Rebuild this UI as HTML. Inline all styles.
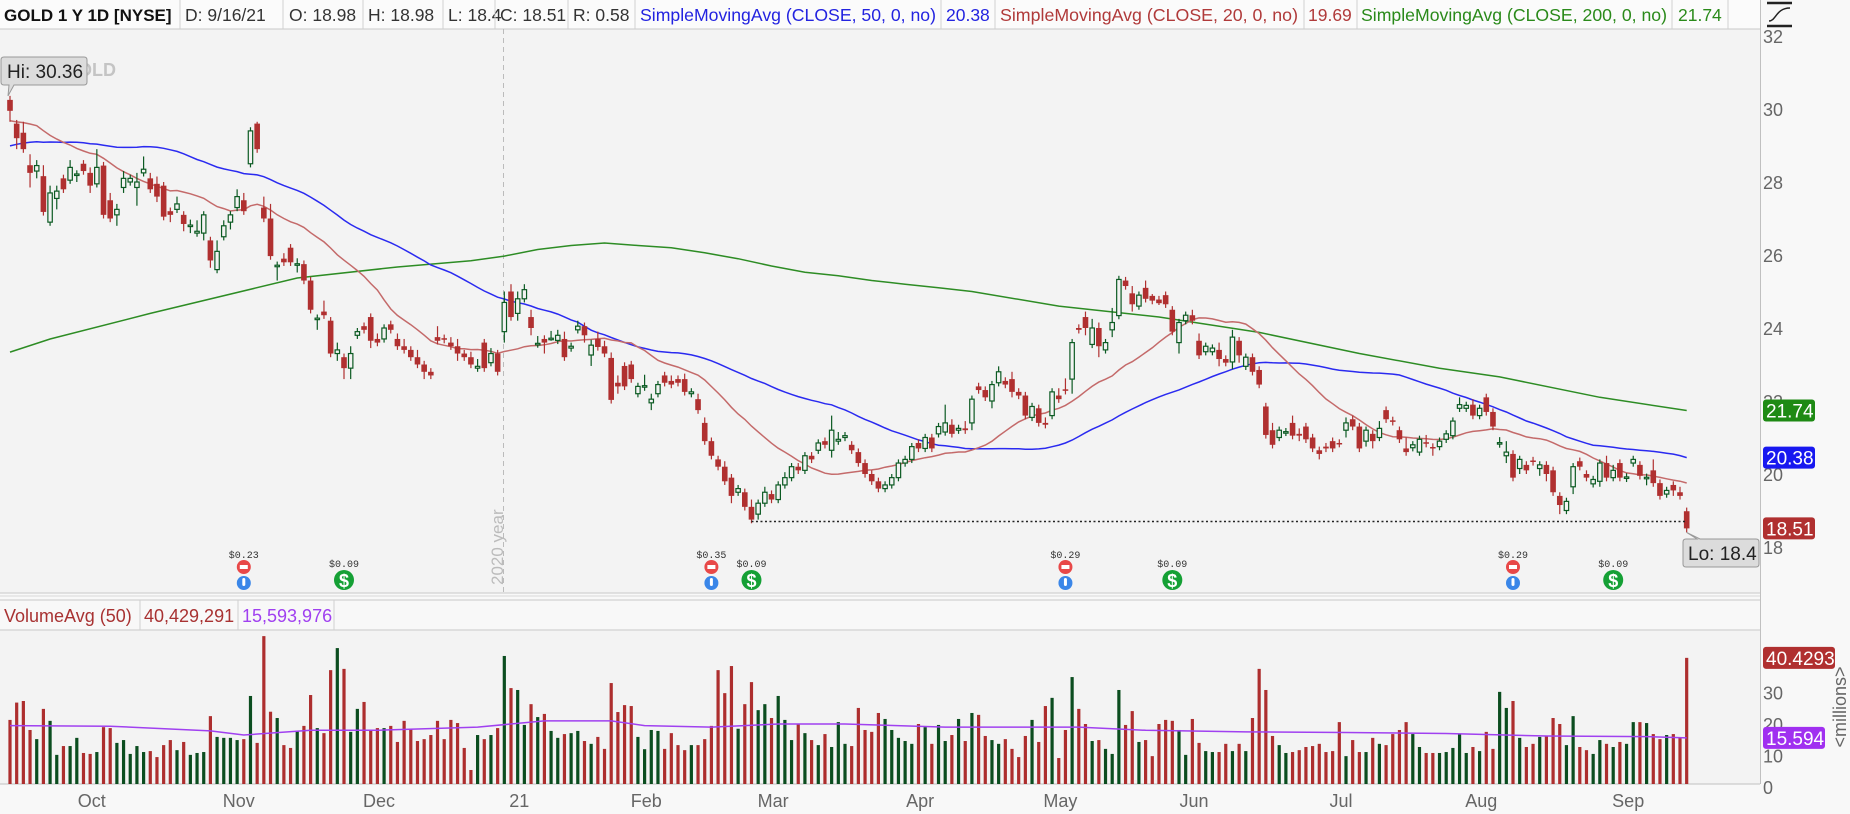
<!DOCTYPE html>
<html><head><meta charset="utf-8"><style>
html,body{margin:0;padding:0;background:#f8f8f8;}
svg{display:block;font-family:"Liberation Sans",sans-serif;}
</style></head><body>
<svg id="chart" width="1850" height="814" viewBox="0 0 1850 814" xmlns="http://www.w3.org/2000/svg">
<rect x="0" y="0" width="1850" height="814" fill="#f8f8f8"/>
<rect x="0" y="29" width="1760" height="564" fill="#f3f3f3"/>
<rect x="0" y="630" width="1760" height="154" fill="#f3f3f3"/>
<rect x="0" y="0" width="1760" height="29" fill="#fbfbfb"/>
<line x1="0" y1="29" x2="1760" y2="29" stroke="#c8c8c8"/>
<line x1="1760.5" y1="0" x2="1760.5" y2="784" stroke="#c0c0c0"/>
<line x1="0" y1="593" x2="1760" y2="593" stroke="#c8c8c8"/>
<line x1="0" y1="596" x2="1760" y2="596" stroke="#d8d8d8"/>
<rect x="0" y="600" width="1760" height="30" fill="#f8f8f8"/>
<line x1="0" y1="600" x2="1760" y2="600" stroke="#c8c8c8"/>
<line x1="0" y1="630" x2="1760" y2="630" stroke="#c8c8c8"/>
<line x1="0" y1="784" x2="1760" y2="784" stroke="#c0c0c0"/>

<g font-size="17.5">
<text x="4" y="21" font-weight="bold" font-size="17" fill="#111">GOLD 1 Y 1D [NYSE]</text>
<text x="185" y="21" fill="#333">D: 9/16/21</text>
<text x="289" y="21" fill="#333">O: 18.98</text>
<text x="368" y="21" fill="#333">H: 18.98</text>
<text x="448" y="21" fill="#333">L: 18.4</text>
<text x="500" y="21" fill="#333">C: 18.51</text>
<text x="573" y="21" fill="#333">R: 0.58</text>
<text x="640" y="21" fill="#2323e0" textLength="296" lengthAdjust="spacingAndGlyphs">SimpleMovingAvg (CLOSE, 50, 0, no)</text>
<text x="946" y="21" fill="#2323e0">20.38</text>
<text x="1000" y="21" fill="#b03a3a" textLength="298" lengthAdjust="spacingAndGlyphs">SimpleMovingAvg (CLOSE, 20, 0, no)</text>
<text x="1308" y="21" fill="#b03a3a">19.69</text>
<text x="1361" y="21" fill="#2a8a1a" textLength="306" lengthAdjust="spacingAndGlyphs">SimpleMovingAvg (CLOSE, 200, 0, no)</text>
<text x="1678" y="21" fill="#2a8a1a">21.74</text>
<g stroke="#d0d0d0">
<line x1="180" y1="0" x2="180" y2="29"/><line x1="283" y1="0" x2="283" y2="29"/><line x1="363" y1="0" x2="363" y2="29"/>
<line x1="443" y1="0" x2="443" y2="29"/><line x1="495" y1="0" x2="495" y2="29"/><line x1="568" y1="0" x2="568" y2="29"/>
<line x1="635" y1="0" x2="635" y2="29"/><line x1="941" y1="0" x2="941" y2="29"/><line x1="995" y1="0" x2="995" y2="29"/>
<line x1="1304" y1="0" x2="1304" y2="29"/><line x1="1357" y1="0" x2="1357" y2="29"/><line x1="1672" y1="0" x2="1672" y2="29"/>
<line x1="1728" y1="0" x2="1728" y2="29"/></g>
</g>
<g stroke="#222" fill="none" stroke-width="2.5">
<line x1="1767" y1="3" x2="1792" y2="3"/><line x1="1767" y1="26" x2="1792" y2="26"/>
<path d="M1769 21 C1776 21,1776 8,1790 8" stroke-width="1.5"/>
</g>

<text x="78" y="76" font-size="18" fill="#c4c4c4" font-weight="bold">OLD</text>

<g id="priceAxis" font-size="18" fill="#666"></g>
<line x1="503.5" y1="29" x2="503.5" y2="593" stroke="#bbb" stroke-dasharray="5,4"/>
<text transform="translate(503,585) rotate(-90)" font-size="17" fill="#bbb">2020 year</text>
<g id="maLines"></g>
<g id="candles"></g>
<g id="annot"></g>
<g id="events"></g>

<g font-size="18">
<text x="4" y="622" fill="#a83232">VolumeAvg (50)</text>
<text x="144" y="622" fill="#a83232">40,429,291</text>
<text x="242" y="622" fill="#a040f0">15,593,976</text>
<g stroke="#d0d0d0"><line x1="140" y1="600" x2="140" y2="630"/><line x1="238" y1="600" x2="238" y2="630"/><line x1="334" y1="600" x2="334" y2="630"/></g>
</g>
<g id="volAxis" font-size="18" fill="#666"></g>
<g id="volBars"></g>
<g id="dateAxis" font-size="18" fill="#666"></g>
<g id="tags"></g>
</svg>
<script>
const opens=[30.25,29.6,29.35,28.46,28.3,28.16,26.9,27.55,28.1,28.05,28.2,28.5,28.25,27.95,28.45,27.5,27.1,27.85,28.0,27.85,28.25,28.1,27.95,27.9,27.2,27.25,27.1,26.8,26.6,26.6,26.4,25.6,26.5,26.9,27.3,27.5,28.5,29.6,27.3,27.0,25.7,25.9,26.2,25.72,25.75,25.3,24.25,24.45,24.2,23.3,23.2,22.9,23.8,24.05,24.3,23.7,23.7,24.1,23.7,23.5,23.4,23.2,23.0,22.8,23.75,23.72,23.6,23.5,23.3,23.2,22.9,23.6,23.05,23.3,23.9,25.0,24.4,24.8,24.3,23.56,23.7,23.7,23.66,23.7,23.45,23.95,24.05,23.26,23.7,23.5,23.18,22.5,22.96,23.0,22.2,22.38,21.95,22.2,22.7,22.55,22.6,22.6,22.2,22.05,21.4,20.9,20.4,20.2,19.9,19.5,19.5,19.1,18.9,19.2,19.45,19.3,19.7,19.9,20.2,20.1,20.5,20.65,20.9,20.65,20.9,21.0,20.8,20.6,20.3,20.0,19.8,19.6,19.7,19.9,20.3,20.4,20.85,20.7,21.0,21.1,21.15,21.35,21.2,21.25,21.4,22.4,22.3,22.0,22.5,22.55,22.6,22.25,22.15,21.55,21.8,21.4,21.6,22.15,22.32,22.6,24.0,24.3,23.55,24.0,23.4,23.95,24.34,25.3,24.95,24.6,25.1,24.88,24.78,24.9,24.5,23.6,24.2,24.35,23.65,23.35,23.35,23.4,23.15,23.07,23.65,22.95,23.2,22.85,21.85,21.2,21.0,21.14,21.4,21.1,21.3,21.0,20.65,20.75,20.9,20.85,21.2,21.5,21.3,20.9,21.1,21.0,21.75,21.47,21.2,20.7,20.72,20.6,20.87,20.74,20.75,20.95,21.05,21.8,21.8,21.9,21.6,22.1,21.7,20.82,20.5,20.55,20.15,20.25,20.37,20.15,20.25,20.1,19.4,19.0,19.65,20.35,20.0,19.73,19.8,20.3,19.9,20.3,19.88,20.3,20.25,19.89,20.1,19.75,19.45,19.7,19.5,18.98];
const closes=[29.95,29.2,28.9,28.25,28.45,27.18,27.7,27.75,27.8,28.4,28.22,28.3,27.9,28.4,27.1,27.0,27.25,28.1,28.1,28.0,28.35,27.8,27.6,27.05,27.1,27.4,26.85,26.82,26.65,27.1,25.85,26.1,26.8,27.1,27.6,27.2,29.4,28.9,27.0,25.97,25.72,25.8,25.8,25.76,25.3,24.5,24.27,24.35,23.3,23.4,22.9,23.3,23.9,23.95,23.65,23.6,24.0,23.95,23.5,23.4,23.2,23.0,22.8,22.7,23.65,23.68,23.5,23.3,23.2,23.0,22.95,22.9,23.3,22.8,24.7,24.3,24.8,25.05,24.0,23.58,23.6,23.72,23.8,23.2,23.5,24.05,23.8,23.53,23.48,23.3,22.03,22.4,22.4,22.6,22.4,22.42,22.05,22.45,22.5,22.45,22.5,22.25,22.25,21.75,20.9,20.5,20.2,19.8,19.4,19.6,19.1,18.75,19.2,19.5,19.3,19.7,19.9,20.2,20.1,20.5,20.4,20.85,20.8,21.2,20.95,21.05,20.65,20.3,20.0,19.8,19.6,19.7,19.9,20.3,20.4,20.75,20.7,21.0,20.7,21.3,21.4,21.1,21.25,21.2,22.05,22.3,22.1,22.45,22.8,22.45,22.25,22.15,21.6,21.85,21.4,21.35,22.25,22.05,22.28,23.6,23.95,24.0,24.0,23.5,23.6,24.15,25.33,25.15,24.65,24.9,24.8,24.75,24.68,24.65,23.9,24.15,24.35,24.2,23.25,23.5,23.45,23.15,23.05,23.75,23.25,23.2,22.8,22.45,21.07,20.8,21.2,21.16,21.05,21.05,20.95,20.7,20.55,20.7,20.7,20.83,21.4,21.3,20.7,21.2,20.9,21.25,21.5,21.43,20.95,20.6,20.8,20.95,20.83,20.7,20.9,21.1,21.45,21.9,21.88,21.6,21.8,21.7,21.3,20.86,20.6,19.9,20.4,20.1,20.33,20.25,20.0,19.5,19.15,19.25,20.2,20.2,19.9,19.85,20.3,19.9,20.1,19.9,19.92,20.4,19.95,19.91,19.75,19.4,19.55,19.55,19.4,18.51];
const wickUp=[0.11,0.1,0.3,0.3,0.15,0.3,0.2,0.15,0.1,0.2,0.1,0.1,0.15,0.5,0.1,0.2,0.15,0.2,0.1,0.25,0.35,0.15,0.2,0.1,0.1,0.2,0.1,0.15,0.3,0.1,0.1,0.3,0.15,0.1,0.2,0.2,0.1,0.05,0.3,0.4,0.1,0.15,0.1,0.15,0.1,0.1,0.1,0.3,0.1,0.2,0.1,0.2,0.1,0.1,0.1,0.15,0.1,0.1,0.15,0.2,0.1,0.2,0.1,0.1,0.3,0.1,0.15,0.2,0.1,0.15,0.2,0.1,0.15,0.1,0.3,0.2,0.2,0.15,0.2,0.2,0.1,0.2,0.15,0.2,0.1,0.15,0.1,0.15,0.2,0.15,0.15,0.2,0.1,0.1,0.1,0.3,0.15,0.1,0.1,0.15,0.1,0.15,0.1,0.15,0.15,0.1,0.1,0.15,0.1,0.1,0.1,0.2,0.1,0.15,0.1,0.1,0.15,0.1,0.1,0.1,0.1,0.1,0.1,0.4,0.2,0.1,0.1,0.1,0.1,0.1,0.1,0.1,0.1,0.1,0.1,0.1,0.1,0.1,0.1,0.1,0.5,0.15,0.1,0.2,0.1,0.1,0.1,0.1,0.15,0.1,0.2,0.1,0.1,0.1,0.1,0.15,0.1,0.2,0.3,0.1,0.1,0.15,0.25,0.15,0.1,0.4,0.1,0.1,0.2,0.1,0.2,0.05,0.1,0.1,0.1,0.1,0.1,0.15,0.2,0.1,0.1,0.2,0.1,0.2,0.1,0.1,0.1,0.1,0.1,0.2,0.1,0.1,0.2,0.15,0.1,0.1,0.1,0.1,0.1,0.1,0.15,0.1,0.1,0.1,0.1,0.2,0.1,0.1,0.1,0.3,0.1,0.1,0.2,0.1,0.1,0.1,0.1,0.2,0.1,0.15,0.1,0.1,0.1,0.15,0.3,0.1,0.1,0.1,0.1,0.1,0.1,0.1,0.1,0.1,0.1,0.1,0.1,0.1,0.1,0.2,0.15,0.1,0.1,0.1,0.1,0.1,0.3,0.1,0.1,0.1,0.15,0.1,0.15,0.1,0.1,0.15,0.0];
const wickDn=[0.3,0.3,0.1,0.4,0.2,0.1,0.1,0.3,0.1,0.1,0.2,0.1,0.2,0.1,0.1,0.1,0.3,0.15,0.1,0.5,0.1,0.1,0.15,0.1,0.2,0.1,0.2,0.2,0.1,0.2,0.2,0.1,0.1,0.2,0.1,0.1,0.1,0.1,0.1,0.1,0.4,0.1,0.1,0.2,0.1,0.1,0.3,0.1,0.1,0.2,0.3,0.3,0.1,0.1,0.2,0.1,0.1,0.1,0.1,0.1,0.1,0.1,0.2,0.1,0.1,0.1,0.1,0.2,0.1,0.1,0.1,0.1,0.1,0.1,0.3,0.1,0.2,0.1,0.2,0.1,0.3,0.05,0.1,0.1,0.1,0.1,0.2,0.3,0.1,0.1,0.1,0.2,0.1,0.1,0.1,0.1,0.2,0.1,0.1,0.1,0.1,0.1,0.1,0.1,0.1,0.1,0.1,0.1,0.2,0.1,0.1,0.1,0.15,0.1,0.1,0.1,0.1,0.1,0.1,0.1,0.1,0.1,0.1,0.2,0.1,0.1,0.1,0.1,0.1,0.1,0.1,0.1,0.1,0.1,0.1,0.1,0.1,0.1,0.1,0.1,0.1,0.1,0.1,0.1,0.2,0.1,0.1,0.2,0.1,0.1,0.15,0.1,0.1,0.1,0.1,0.1,0.1,0.1,0.1,0.4,0.1,0.2,0.1,0.3,0.1,0.2,0.1,0.1,0.2,0.1,0.1,0.1,0.05,0.1,0.1,0.3,0.1,0.1,0.1,0.1,0.1,0.2,0.1,0.2,0.2,0.1,0.1,0.1,0.1,0.1,0.1,0.1,0.1,0.15,0.1,0.1,0.15,0.1,0.1,0.1,0.2,0.1,0.1,0.15,0.2,0.1,0.1,0.1,0.1,0.1,0.1,0.1,0.1,0.2,0.1,0.1,0.1,0.1,0.1,0.1,0.1,0.1,0.1,0.1,0.2,0.1,0.15,0.1,0.1,0.2,0.2,0.1,0.25,0.1,0.2,0.1,0.1,0.1,0.15,0.1,0.1,0.1,0.1,0.1,0.1,0.2,0.1,0.1,0.1,0.15,0.1,0.11];
const volumes=[21.3,26.8,27.3,18.1,15.2,24.8,21,10.2,13,13,15.6,10.8,10.5,11.1,19,18.7,14,14.9,10.5,13,11.1,11.4,9.5,13.3,14.9,11.7,14.3,10.2,10.8,11.1,22.5,15.9,15.6,15.6,14.9,15.2,28.9,14,47.9,23.9,21.9,13.3,12.4,17.9,19.4,29.2,18.7,17.1,37.1,44.1,37.5,17.5,24.8,27,18.1,18.7,18.7,19.4,14.3,21,18.4,14.6,15.2,16.5,21,15.2,21.3,20.3,12.4,5.4,16.5,15.2,16.5,18.7,41.6,31.4,30.8,19.7,26.3,22.2,23.2,17.8,15.6,16.8,17.1,17.8,14.6,13.7,15.9,12.1,33,23.8,26,25.7,15.9,12,18.1,17.8,12.1,17.1,13.3,11.7,13.3,13.3,15.2,19.4,37.1,29.8,38.4,18.5,26.3,33.3,24.4,26.3,21.9,28.9,21.3,14.9,20,17.1,14.9,13.3,16.8,12.7,20.6,13.7,13,25.1,18.1,17.5,23.5,21.6,18.1,15.6,14.6,13.7,20,19,13.7,19.7,14.6,16.5,21.6,14.6,23.5,22.9,16.2,14.9,13.7,15.2,12.1,9.5,16.2,21.3,14.3,25.7,28.3,9.2,18.1,34.9,24.8,20,14.6,14.9,12.1,10.5,30.8,19.7,24.1,14.3,14.9,9.8,20,21.3,21,18.1,10.2,21.6,14,11.4,11.1,11.1,13.7,11.4,13.7,11.4,21.9,37.5,30.8,16.2,13.3,10.8,11.1,11.7,12.7,13,13.7,11.1,11.4,20.6,9.8,14.9,11.1,11.1,15.6,13.7,13.3,16.8,18.1,20.6,16.8,12.7,10.8,10.8,10.8,11.1,12.4,16.8,10.8,12.7,11.4,17.5,12.1,30.2,25.1,27.3,15.6,12.7,13.7,15.9,16.2,21.9,20,13.3,22.5,12.7,11.7,10.5,14.9,13.7,12.7,14.3,13.7,20.6,20.6,20.3,16.8,15.2,16.5,16.8,15.6,41];
const priorCloses=[26.8,27.0,27.3,27.1,27.6,27.9,27.5,27.8,28.2,28.0,28.4,28.9,29.3,29.0,28.6,28.3,28.7,28.4,28.0,27.8,27.5,27.9,28.3,28.6,29.1,29.6,30.2,30.8,30.5,30.0,29.6,29.8,29.3,29.0,29.4,29.9,30.3,29.8,29.5,29.9,30.1,29.7,29.2,28.9,29.3,29.6,29.9,30.2,29.8,30.0];
const sma200Idx=[0,6,21,43,58,69,74,79,84,89,94,99,104,109,114,119,124,129,134,139,144,157,172,187,202,214,223,238,251];
const sma200Val=[23.34,23.7,24.4,25.37,25.67,25.84,25.97,26.15,26.26,26.33,26.26,26.2,26.06,25.9,25.7,25.53,25.43,25.3,25.2,25.1,25.0,24.6,24.3,23.88,23.3,22.9,22.66,22.1,21.74];
const volAvgIdx=[0,15,30,35,45,55,70,80,90,95,105,115,125,140,160,170,185,200,215,230,245,251];
const volAvgVal=[19.5,19.3,17.8,16.5,18,18,19,21,21,19.5,19,20,20,19,19,18,17.5,17.3,17,16.2,16,15.59];
const priceTicks=[18,20,22,24,26,28,30,32];
const volTicks=[0,10,20,30];
const monthLabels=["Oct","Nov","Dec","21","Feb","Mar","Apr","May","Jun","Jul","Aug","Sep"];
const monthIdx=[10,32,53,74,93,112,134,155,175,197,218,240];
const eventLabels=["$0.23","$0.09","$0.35","$0.09","$0.29","$0.09","$0.29","$0.09"];
const eventIdx=[35,50,105,111,158,174,225,240];
const eventKind=["earn","div","earn","div","earn","div","earn","div"];

const NS="http://www.w3.org/2000/svg";
const xOf=i=>10+i*6.68;
const yP=p=>547-(p-18)*36.5;
const yV=v=>Math.max(630,787-v*3.15);
function mk(tag,attrs,parent,txt){const e=document.createElementNS(NS,tag);for(const k in attrs)e.setAttribute(k,attrs[k]);if(txt!==undefined)e.textContent=txt;parent.appendChild(e);return e;}
const $=id=>document.getElementById(id);

priceTicks.forEach(p=>{const t=mk('text',{x:1763,y:yP(p)+7},$('priceAxis'),String(p));

});
const all=priorCloses.concat(closes);
function sma(n){const out=[];for(let i=0;i<closes.length;i++){const j=i+priorCloses.length;let s=0;for(let k=j-n+1;k<=j;k++)s+=all[k];out.push(s/n);}return out;}
function line(pts,color,name,w){const d=pts.map((p,k)=>(k?'L':'M')+p[0].toFixed(1)+' '+p[1].toFixed(1)).join(' ');
const e=mk('path',{d:d,fill:'none',stroke:color,'stroke-width':w||1.5},$('maLines'));

return e;}
line(sma200Idx.map((i,k)=>[xOf(i),yP(sma200Val[k])]),'#2d8c24','sma200-line');
const s50=sma(50),s20=sma(20);
line(s50.map((v,i)=>[xOf(i),yP(v)]),'#2a2af0','sma50-line');
line(s20.map((v,i)=>[xOf(i),yP(v)]),'#c46a6a','sma20-line');
closes.forEach((c,i)=>{const o=opens[i];const up=c>=o;const x=xOf(i);
const hi=Math.max(o,c)+(wickUp[i]||0.1),lo=Math.min(o,c)-(wickDn[i]||0.1);
const g=mk('g',{},$('candles'));


const col=up?'#0b5a22':'#b03030';
mk('line',{x1:x,y1:yP(hi),x2:x,y2:yP(lo),stroke:col,'stroke-width':1.2},g);
const top=yP(Math.max(o,c)),h=Math.max(1.5,yP(Math.min(o,c))-top);
if(up)mk('rect',{x:x-2.2,y:top,width:4.4,height:h,fill:'#f3f3f3',stroke:col,'stroke-width':1.2},g);
else mk('rect',{x:x-2.8,y:top,width:5.6,height:h,fill:col},g);});
const low=closes.length-1;
const sup=mk('line',{x1:xOf(111),y1:yP(18.7),x2:xOf(low),y2:yP(18.7),stroke:'#222','stroke-width':1.5,'stroke-dasharray':'2,2.5'},$('annot'));


const hiY=yP(opens[0]+wickUp[0]);
const hb=mk('g',{},$('annot'));


mk('path',{d:`M4 57 H84 Q87 57 87 60 V82 Q87 85 84 85 H14 L8 ${hiY} L9 85 H4 Q1 85 1 82 V60 Q1 57 4 57Z`,fill:'#dcdcdc',stroke:'#999'},hb);
mk('text',{x:7,y:78,'font-size':19,fill:'#222'},hb,'Hi: 30.36');
const loY=yP(Math.min(opens[low],closes[low])-wickDn[low]);
const lb=mk('g',{},$('annot'));


mk('path',{d:`M1686 539 H1697 L${xOf(low)} ${loY} L1700 539 H1756 Q1759 539 1759 542 V564 Q1759 567 1756 567 H1686 Q1683 567 1683 564 V542 Q1683 539 1686 539Z`,fill:'#dcdcdc',stroke:'#999'},lb);
mk('text',{x:1688,y:560,'font-size':19,fill:'#222'},lb,'Lo: 18.4');
eventIdx.forEach((i,k)=>{const x=xOf(i);const g=mk('g',{},$('events'));


if(eventKind[k]==='earn'){mk('text',{x:x,y:558,'font-size':10,'text-anchor':'middle',fill:'#333','font-family':'Liberation Mono'},g,eventLabels[k]);
mk('circle',{cx:x,cy:567,r:7,fill:'#e84848'},g);mk('rect',{x:x-4,y:565,width:8,height:4,fill:'#fff'},g);
mk('circle',{cx:x,cy:583,r:7,fill:'#3a86e8'},g);mk('rect',{x:x-1.5,y:578,width:3,height:8,fill:'#fff',rx:1.5},g);}
else{mk('text',{x:x,y:567,'font-size':10,'text-anchor':'middle',fill:'#333','font-family':'Liberation Mono'},g,eventLabels[k]);
mk('circle',{cx:x,cy:580,r:10,fill:'#15a035'},g);mk('text',{x:x,y:587,'font-size':18,'font-weight':'bold','text-anchor':'middle',fill:'#fff'},g,'$');}});
volTicks.forEach(v=>{const t=mk('text',{x:1763,y:787-v*3.15+7},$('volAxis'),String(v));

});
const mil=mk('text',{transform:'translate(1846,707) rotate(-90)','text-anchor':'middle'},$('volAxis'),'<millions>');


const nV=Math.min(volumes.length,closes.length);
for(let i=0;i<nV;i++){const v=volumes[i];const up=closes[i]>=opens[i];const y=yV(v);
const r=mk('rect',{x:xOf(i)-1.6,y:y,width:3.2,height:784-y,fill:up?'#0b4d1f':'#ad2e2e'},$('volBars'));

}
const va=mk('path',{d:volAvgIdx.map((i,k)=>(k?'L':'M')+xOf(i).toFixed(1)+' '+yV(volAvgVal[k]).toFixed(1)).join(' '),fill:'none',stroke:'#a040f0','stroke-width':1.5},$('volBars'));


monthLabels.forEach((m,k)=>{const t=mk('text',{x:xOf(monthIdx[k])+15,y:807,'text-anchor':'middle'},$('dateAxis'),m);

});
function tag(val,y,color,name,w){const g=mk('g',{},$('tags'));


mk('rect',{x:1763,y:y-11,width:w,height:22,rx:3,fill:color},g);
mk('text',{x:1766,y:y+7,'font-size':19,fill:'#fff'},g,val);}
tag('21.74',yP(sma200Val[sma200Val.length-1]),'#1e8a14','sma200-tag',52);
tag('20.38',yP(s50[s50.length-1]),'#1818f0','sma50-tag',52);
tag('18.51',yP(closes[low]),'#b03030','last-price-tag',52);
tag('40.4293',yV(volumes[nV-1]),'#b03030','volume-tag',72);
tag('15.594',yV(volAvgVal[volAvgVal.length-1]),'#a030f0','volume-avg-tag',62);
</script>
</body></html>
